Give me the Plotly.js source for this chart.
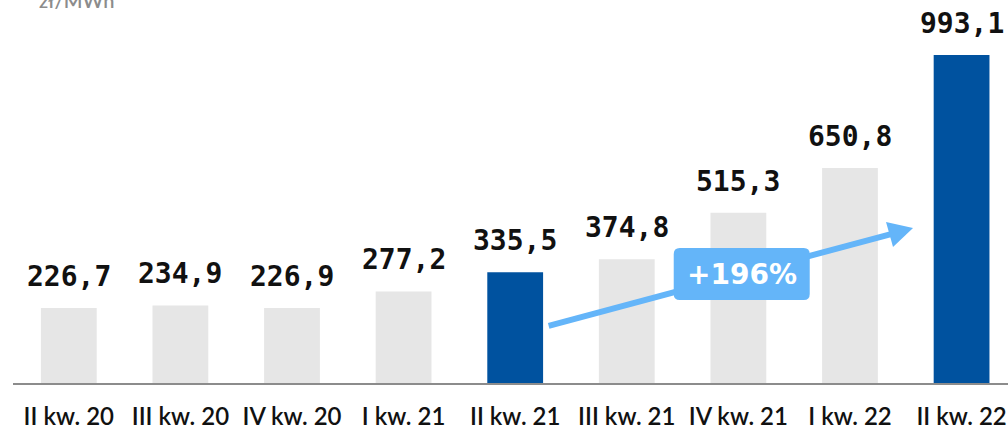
<!DOCTYPE html>
<html>
<head>
<meta charset="utf-8">
<script src="https://cdn.plot.ly/plotly-3.0.1.min.js"></script>
<style>
  html, body { margin: 0; padding: 0; background: #fff; }
  #chart { width: 1008px; height: 431px; }
</style>
</head>
<body>
<div id="chart"></div>
<script>
// quarters and price values (zł/MWh)
const quarters = ["II kw. 20", "III kw. 20", "IV kw. 20", "I kw. 21", "II kw. 21",
                  "III kw. 21", "IV kw. 21", "I kw. 22", "II kw. 22"];
const prices = [226.7, 234.9, 226.9, 277.2, 335.5, 374.8, 515.3, 650.8, 993.1];
const highlighted = ["II kw. 21", "II kw. 22"];
const growthLabel = "+196%";
const unitLabel = "zł/MWh";

const grey = "#e6e6e6";
const blue = "#00529f";
const arrowBlue = "#64b5f9";

const barColors = quarters.map(q => highlighted.includes(q) ? blue : grey);

const trace = {
  type: "bar",
  x: quarters,
  y: prices,
  width: 0.5,
  marker: { color: barColors },
  hoverinfo: "skip"
};

// value labels above the bars
const valueLabels = quarters.map((q, i) => ({
  x: q,
  y: prices[i],
  text: "<b>" + prices[i].toFixed(1).replace(".", ",") + "</b>",
  showarrow: false,
  yanchor: "bottom",
  yshift: 13,
  font: { family: "DejaVu Sans Mono", size: 28, color: "#111" }
}));

// growth arrow from the first highlighted bar towards the last one
const arrowTail = { x: 4.30, y: 173 };
const arrowTip = { x: 7.565, y: 469 };
const arrowEnd = { x: 7.435, y: 457 };
const boxCenter = { x: 6.03, y: 330 };

const shapes = [
  {
    type: "line", layer: "above",
    x0: arrowTail.x, y0: arrowTail.y, x1: arrowEnd.x, y1: arrowEnd.y,
    line: { color: arrowBlue, width: 6 }
  },
  {
    type: "path", layer: "above",
    xsizemode: "pixel", ysizemode: "pixel",
    xanchor: arrowTip.x, yanchor: arrowTip.y,
    path: "M0,0 L-27,6 L-20,-19 Z",
    fillcolor: arrowBlue, line: { width: 0 }
  },
  {
    type: "path", layer: "above",
    xsizemode: "pixel", ysizemode: "pixel",
    xanchor: boxCenter.x, yanchor: boxCenter.y,
    path: "M-62,-26 L62,-26 Q68,-26 68,-20 L68,20 Q68,26 62,26 L-62,26 Q-68,26 -68,20 L-68,-20 Q-68,-26 -62,-26 Z",
    fillcolor: arrowBlue, line: { width: 0 }
  }
];

const annotations = valueLabels.concat([
  {
    x: boxCenter.x, y: boxCenter.y,
    text: "<b>" + growthLabel + "</b>",
    showarrow: false,
    font: { family: "DejaVu Sans", size: 28, color: "#fff" }
  },
  {
    xref: "paper", yref: "paper",
    x: 0.024, y: 1.0,
    xanchor: "left", yanchor: "middle",
    yshift: 0,
    text: unitLabel,
    showarrow: false,
    font: { family: "Lato", size: 20, color: "#8c8c8c", weight: 600 }
  }
]);

const layout = {
  width: 1008,
  height: 431,
  margin: { l: 13, r: 0, t: 0, b: 48 },
  paper_bgcolor: "#fff",
  plot_bgcolor: "#fff",
  showlegend: false,
  xaxis: {
    type: "category",
    range: [-0.5, 8.416],
    showline: true,
    linecolor: "#8c8c8c",
    linewidth: 2,
    showgrid: false,
    ticks: "",
    ticklabelstandoff: 11,
    tickfont: { family: "Lato", size: 24, color: "#111", weight: 600 }
  },
  yaxis: {
    visible: false,
    range: [0, 1159.6],
    showgrid: false,
    zeroline: false
  },
  shapes: shapes,
  annotations: annotations
};

Plotly.newPlot("chart", [trace], layout, { displayModeBar: false, staticPlot: true });
</script>
</body>
</html>
